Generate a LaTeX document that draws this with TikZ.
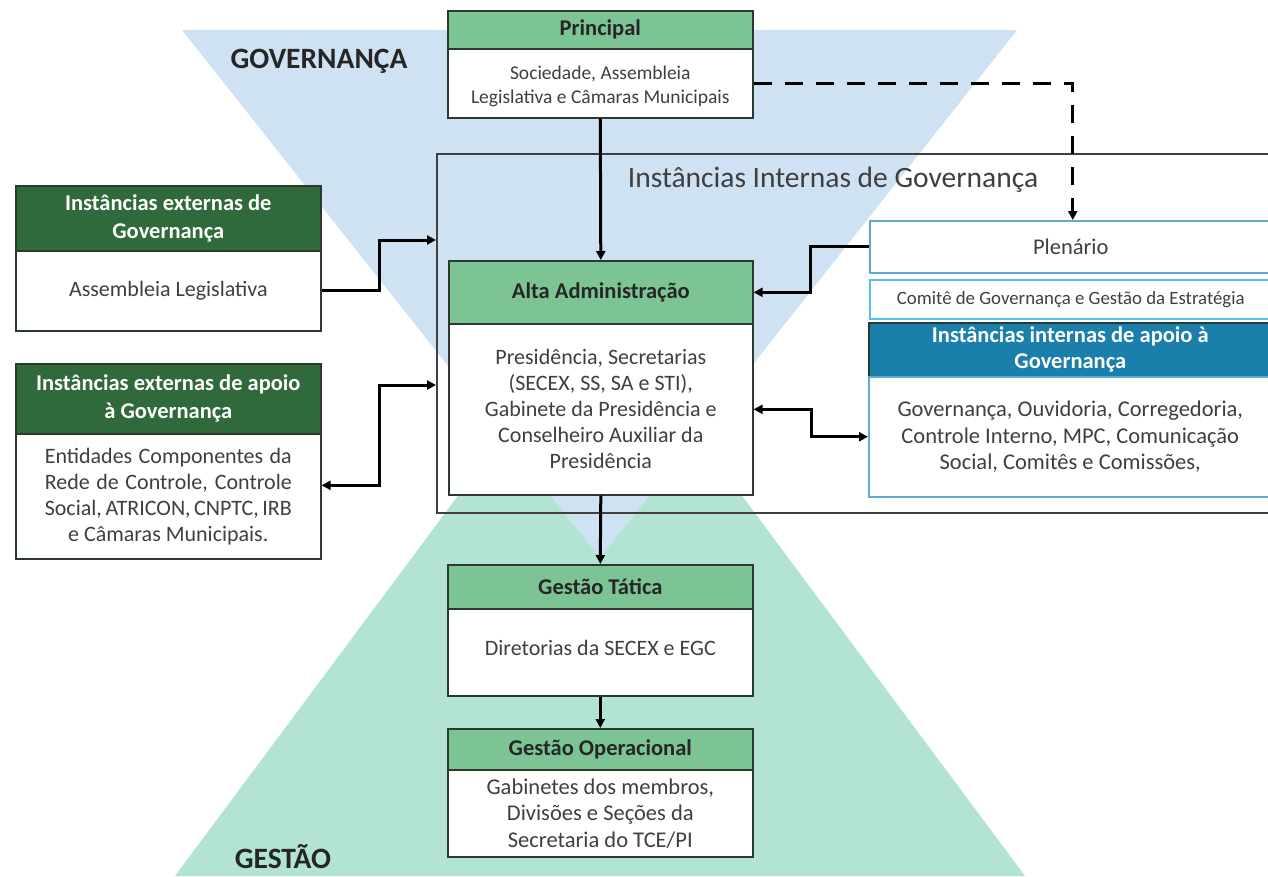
\documentclass[tikz,border=0pt]{standalone}
\usepackage{fontspec}
\setmainfont{Carlito}
\usetikzlibrary{arrows.meta}
\definecolor{triblue}{HTML}{CFE2F3}
\definecolor{trigreen}{HTML}{B3E3D3}
\definecolor{hgreen}{HTML}{7DC494}
\definecolor{dgreen}{HTML}{30693A}
\definecolor{hblue}{HTML}{1A7FAB}
\definecolor{lblue}{HTML}{5FAAD3}
\definecolor{cblue}{HTML}{4FC3EE}
\definecolor{txt}{HTML}{3F3F3F}
\definecolor{bord}{HTML}{2A3A2C}
\newcommand{\fs}[2]{\fontsize{#1}{#2}\selectfont}
\tikzset{
  box/.style={draw=bord, line width=1.6pt, anchor=north west, inner sep=0pt, align=center},
  lhdr/.style={box, fill=hgreen, font=\fs{22.5}{26}\bfseries, text=black!85},
  dhdr/.style={box, fill=dgreen, font=\fs{22.5}{28}\bfseries, text=white},
  bhdr/.style={box, fill=hblue, font=\fs{22.5}{26}\bfseries, text=white},
  body/.style={box, fill=white, font=\fs{22}{26}, text=txt},
  pbody/.style={box, draw=lblue, line width=1.5pt, fill=white, font=\fs{22.5}{26}, text=txt},
  arr/.style={line width=3pt, -{Triangle[length=9pt,width=9pt]}},
  darr/.style={line width=3pt, {Triangle[length=9pt,width=9pt]}-{Triangle[length=9pt,width=9pt]}},
  dsh/.style={line width=3pt, dash pattern=on 18pt off 13pt, -{Triangle[length=9pt,width=9pt]}},
}
\begin{document}
\begin{tikzpicture}[x=1pt,y=-1pt]
\clip (0,0) rectangle (1268,876);
\fill[white] (0,0) rectangle (1268,876);
% triangles
\fill[trigreen] (600,305) -- (1025,876) -- (175,876) -- cycle;
\fill[triblue] (182,30) -- (1017,30) -- (600,558) -- cycle;
\node[font=\fs{29.5}{32}\bfseries, text=black!85] (gov) at (319,61) {GOVERNANÇA};
\node[font=\fs{29.5}{32}\bfseries, text=black!85] (ges) at (283,857) {GESTÃO};
% frame of internal instances
\node[draw=black!75, line width=1.6pt, anchor=north west, minimum width=850, minimum height=359, inner sep=0pt] (fr) at (436,153) {};
\node[font=\fs{29.5}{32}, text=txt] (frt) at (833,180) {Instâncias Internas de Governança};
% Principal
\node[lhdr, minimum width=305, minimum height=38] (pH) at (447,10) {Principal};
\node[body, minimum width=305, minimum height=69, font=\fs{19.5}{24}] (pB) at (447,48) {Sociedade, Assembleia\\Legislativa e Câmaras Municipais\\[-27pt]\mbox{}};
% external governance
\node[dhdr, minimum width=305, minimum height=65] (egH) at (15,185) {Instâncias externas de\\Governança};
\node[body, minimum width=305, minimum height=80] (egB) at (15,250) {Assembleia Legislativa};
% external support
\node[dhdr, minimum width=305, minimum height=70] (esH) at (15,363) {Instâncias externas de apoio\\à Governança};
\node[body, minimum width=305, minimum height=125] (esB) at (15,433) {\makebox[247pt][s]{Entidades Componentes da}\\\makebox[247pt][s]{Rede de Controle, Controle}\\\makebox[247pt][s]{Social, ATRICON, CNPTC, IRB}\\e Câmaras Municipais.};
% Alta administracao
\node[lhdr, minimum width=304, minimum height=63] (aH) at (448,260) {Alta Administração};
\node[body, minimum width=304, minimum height=171] (aB) at (448,323) {Presidência, Secretarias\\(SECEX, SS, SA e STI),\\Gabinete da Presidência e\\Conselheiro Auxiliar da\\Presidência};
% internal right
\node[pbody, minimum width=402, minimum height=52] (plen) at (869,220) {Plenário};
\node[pbody, draw=cblue, minimum width=402, minimum height=39, font=\fs{18.8}{20}] (com) at (869,279) {Comitê de Governança e Gestão da Estratégia};
\node[bhdr, minimum width=403, minimum height=54] (isH) at (868,322) {Instâncias internas de apoio à\\Governança};
\node[pbody, minimum width=403, minimum height=120, font=\fs{22.5}{26.5}] (isB) at (868,376) {Governança, Ouvidoria, Corregedoria,\\Controle Interno, MPC, Comunicação\\Social, Comitês e Comissões,};
% gestao
\node[lhdr, minimum width=305, minimum height=44] (gtH) at (447,564) {Gestão Tática};
\node[body, minimum width=305, minimum height=87] (gtB) at (447,608) {Diretorias da SECEX e EGC\\[-18pt]\mbox{}};
\node[lhdr, minimum width=305, minimum height=41] (goH) at (447,728) {Gestão Operacional};
\node[body, minimum width=305, minimum height=87, font=\fs{22.5}{26.5}] (goB) at (447,769) {Gabinetes dos membros,\\Divisões e Seções da\\Secretaria do TCE/PI};
% connector ends on frame
\coordinate (fin1) at (436,240);
\coordinate (fin2) at (436,385);
% connectors
\draw[arr] (pB.south) -- (aH.north);
\draw[dsh] (pB.east) -| ([xshift=2pt]plen.north);
\draw[arr] (egB.east) -- ++(58,0) |- (fin1);
\draw[darr] ([yshift=11pt]esB.east) -- ++(58,0) |- (fin2);
\draw[arr] (plen.west) -- ++(-59,0) |- (aH.east);
\draw[darr] (aB.east) -- ++(58,0) |- (isB.west);
\draw[arr] (aB.south) -- (gtH.north);
\draw[arr] (gtB.south) -- (goH.north);
\end{tikzpicture}
\end{document}
